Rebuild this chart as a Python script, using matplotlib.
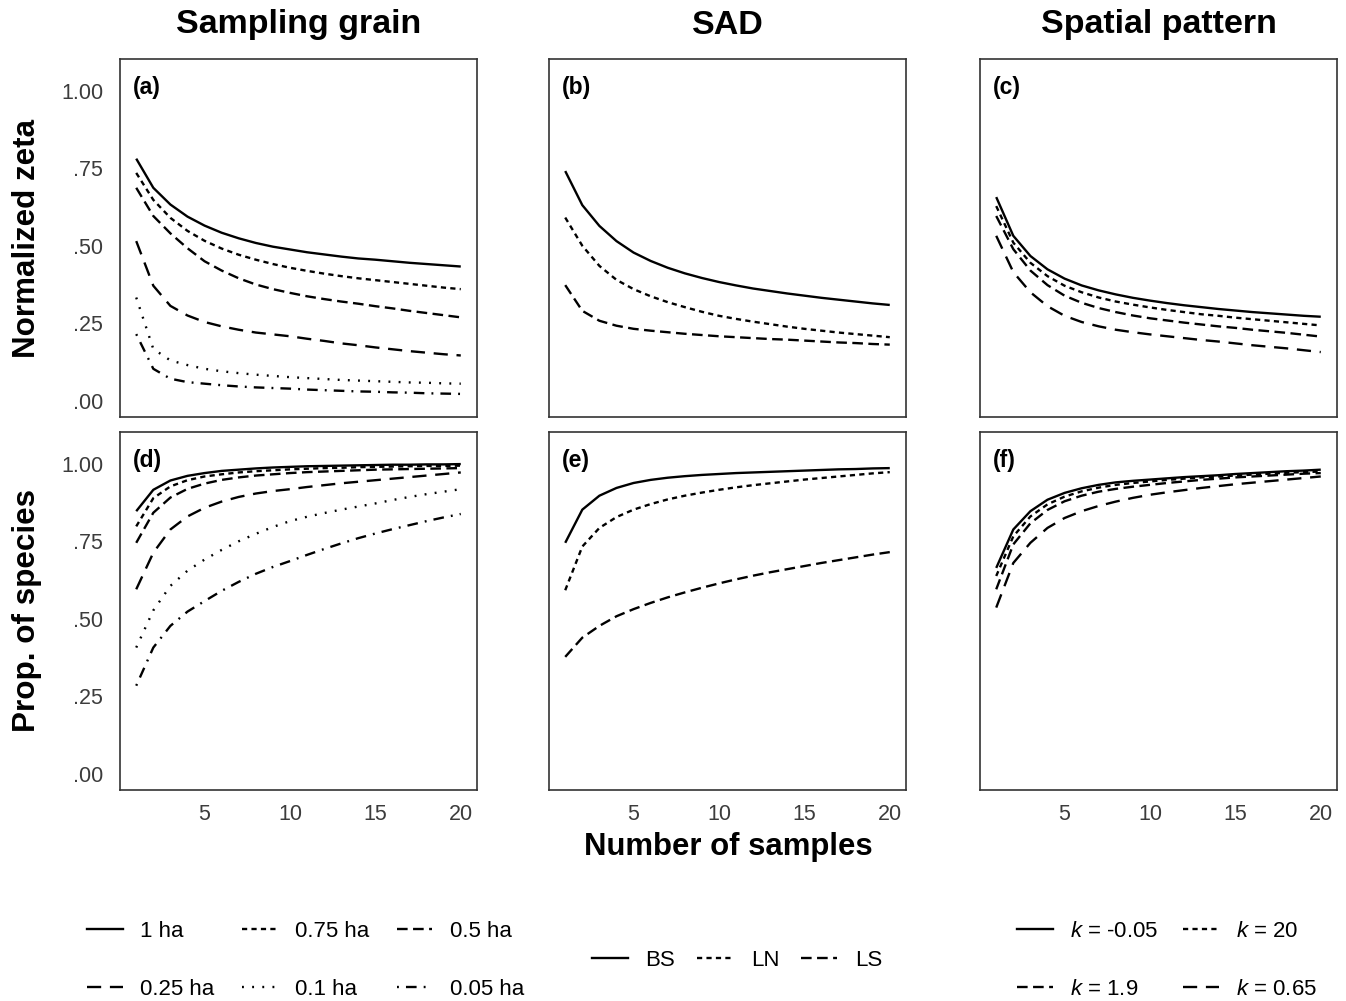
"""Zeta normalizado e proporcao de especies vs numero de amostras (6 paineis)."""

import matplotlib

matplotlib.use("Agg")
import matplotlib.pyplot as plt  # noqa: E402
from matplotlib.lines import Line2D  # noqa: E402

N_SAMPLES = list(range(1, 21))

# --- Sampling grain -----------------------------------------------------------
GRAIN_LABELS = ["1 ha", "0.75 ha", "0.5 ha", "0.25 ha", "0.1 ha", "0.05 ha"]
ZETA_GRAIN = [
    [0.781, 0.687, 0.633, 0.594, 0.565, 0.542, 0.524, 0.509, 0.497, 0.488,
     0.479, 0.472, 0.465, 0.459, 0.455, 0.450, 0.445, 0.441, 0.437, 0.433],
    [0.735, 0.648, 0.590, 0.548, 0.516, 0.491, 0.471, 0.455, 0.441, 0.429,
     0.419, 0.410, 0.402, 0.395, 0.389, 0.383, 0.377, 0.371, 0.365, 0.360],
    [0.687, 0.596, 0.540, 0.492, 0.450, 0.420, 0.395, 0.375, 0.360, 0.348,
     0.337, 0.328, 0.320, 0.313, 0.305, 0.298, 0.290, 0.283, 0.276, 0.269],
    [0.515, 0.371, 0.306, 0.275, 0.254, 0.240, 0.229, 0.220, 0.214, 0.208,
     0.200, 0.193, 0.185, 0.179, 0.172, 0.166, 0.160, 0.155, 0.150, 0.146],
    [0.333, 0.167, 0.130, 0.115, 0.103, 0.095, 0.089, 0.084, 0.080, 0.076,
     0.073, 0.070, 0.067, 0.065, 0.063, 0.061, 0.059, 0.058, 0.056, 0.055],
    [0.215, 0.103, 0.071, 0.060, 0.055, 0.050, 0.046, 0.043, 0.041, 0.039,
     0.036, 0.034, 0.032, 0.030, 0.029, 0.027, 0.026, 0.024, 0.023, 0.022],
]
PROP_GRAIN = [
    [0.847, 0.916, 0.946, 0.961, 0.970, 0.977, 0.981, 0.985, 0.988, 0.990,
     0.992, 0.993, 0.994, 0.995, 0.996, 0.997, 0.997, 0.998, 0.998, 0.999],
    [0.798, 0.889, 0.927, 0.947, 0.959, 0.966, 0.972, 0.976, 0.979, 0.982,
     0.984, 0.986, 0.987, 0.989, 0.990, 0.991, 0.992, 0.993, 0.993, 0.994],
    [0.745, 0.842, 0.891, 0.919, 0.936, 0.948, 0.956, 0.962, 0.966, 0.970,
     0.973, 0.975, 0.977, 0.979, 0.981, 0.982, 0.983, 0.984, 0.985, 0.986],
    [0.595, 0.713, 0.788, 0.830, 0.858, 0.878, 0.893, 0.904, 0.912, 0.918,
     0.925, 0.931, 0.937, 0.942, 0.947, 0.952, 0.957, 0.962, 0.967, 0.972],
    [0.407, 0.527, 0.606, 0.655, 0.691, 0.722, 0.750, 0.774, 0.796, 0.815,
     0.829, 0.841, 0.852, 0.862, 0.872, 0.883, 0.893, 0.902, 0.910, 0.918],
    [0.284, 0.407, 0.477, 0.523, 0.557, 0.590, 0.619, 0.645, 0.667, 0.686,
     0.706, 0.725, 0.743, 0.760, 0.775, 0.789, 0.802, 0.815, 0.827, 0.838],
]

# --- SAD ----------------------------------------------------------------------
SAD_LABELS = ["BS", "LN", "LS"]
ZETA_SAD = [
    [0.741, 0.631, 0.564, 0.515, 0.478, 0.451, 0.429, 0.411, 0.396, 0.383,
     0.372, 0.362, 0.354, 0.346, 0.339, 0.332, 0.326, 0.320, 0.314, 0.309],
    [0.591, 0.500, 0.435, 0.390, 0.360, 0.337, 0.318, 0.302, 0.287, 0.274,
     0.264, 0.255, 0.247, 0.239, 0.232, 0.226, 0.220, 0.215, 0.210, 0.205],
    [0.373, 0.290, 0.258, 0.242, 0.232, 0.226, 0.221, 0.216, 0.212, 0.208,
     0.205, 0.202, 0.199, 0.197, 0.194, 0.191, 0.188, 0.186, 0.183, 0.181],
]
PROP_SAD = [
    [0.745, 0.852, 0.897, 0.922, 0.938, 0.948, 0.955, 0.960, 0.964, 0.967,
     0.970, 0.972, 0.974, 0.976, 0.978, 0.980, 0.982, 0.983, 0.985, 0.986],
    [0.592, 0.733, 0.793, 0.828, 0.852, 0.870, 0.885, 0.897, 0.907, 0.916,
     0.924, 0.931, 0.937, 0.943, 0.949, 0.954, 0.959, 0.964, 0.969, 0.973],
    [0.377, 0.439, 0.477, 0.508, 0.531, 0.551, 0.569, 0.585, 0.600, 0.614,
     0.627, 0.639, 0.650, 0.660, 0.670, 0.680, 0.689, 0.698, 0.707, 0.715],
]

# --- Spatial pattern ----------------------------------------------------------
SPATIAL_LABELS = ["$k$ = -0.05", "$k$ = 20", "$k$ = 1.9", "$k$ = 0.65"]
ZETA_SPATIAL = [
    [0.657, 0.532, 0.467, 0.424, 0.394, 0.372, 0.356, 0.343, 0.332, 0.323,
     0.315, 0.308, 0.302, 0.296, 0.291, 0.286, 0.282, 0.278, 0.274, 0.271],
    [0.628, 0.510, 0.445, 0.402, 0.371, 0.350, 0.333, 0.320, 0.310, 0.301,
     0.293, 0.286, 0.279, 0.274, 0.268, 0.263, 0.258, 0.253, 0.248, 0.243],
    [0.596, 0.489, 0.420, 0.373, 0.339, 0.316, 0.299, 0.286, 0.275, 0.266,
     0.259, 0.252, 0.246, 0.240, 0.235, 0.229, 0.224, 0.219, 0.213, 0.207],
    [0.532, 0.415, 0.350, 0.305, 0.274, 0.254, 0.240, 0.229, 0.221, 0.214,
     0.208, 0.202, 0.196, 0.191, 0.185, 0.179, 0.174, 0.169, 0.163, 0.157],
]
PROP_SPATIAL = [
    [0.664, 0.788, 0.847, 0.884, 0.906, 0.921, 0.932, 0.940, 0.945, 0.949,
     0.953, 0.957, 0.960, 0.963, 0.967, 0.970, 0.973, 0.976, 0.978, 0.981],
    [0.638, 0.766, 0.830, 0.869, 0.894, 0.911, 0.923, 0.932, 0.938, 0.943,
     0.948, 0.952, 0.956, 0.959, 0.962, 0.965, 0.968, 0.971, 0.973, 0.975],
    [0.595, 0.740, 0.808, 0.851, 0.879, 0.897, 0.910, 0.919, 0.926, 0.932,
     0.938, 0.943, 0.948, 0.952, 0.956, 0.959, 0.962, 0.965, 0.968, 0.970],
    [0.536, 0.680, 0.745, 0.793, 0.825, 0.847, 0.864, 0.878, 0.890, 0.900,
     0.908, 0.915, 0.922, 0.928, 0.934, 0.939, 0.944, 0.949, 0.954, 0.959],
]

Y_TICKS = [0.0, 0.25, 0.5, 0.75, 1.0]
Y_TICK_LABELS = [".00", ".25", ".50", ".75", "1.00"]
X_TICKS = [5, 10, 15, 20]
COL_TITLES = ["Sampling grain", "SAD", "Spatial pattern"]
PANEL_TAGS = [["(a)", "(b)", "(c)"], ["(d)", "(e)", "(f)"]]

# tipos de linha (estilo ggplot: solid, dashed curto, medio, longo, pontilhado, ponto-traco)
SOLID = "-"
SHORT = (0, (2.2, 1.8))
MEDIUM = (0, (4.5, 2.3))
LONG = (0, (6.0, 3.7))
DOTTED = (0, (0.8, 3.5))
DOTDASH = (0, (0.8, 3.0, 4.5, 3.0))
GRAIN_STYLES = [SOLID, SHORT, MEDIUM, LONG, DOTTED, DOTDASH]
SAD_STYLES = [SOLID, SHORT, MEDIUM]
SPATIAL_STYLES = [SOLID, SHORT, MEDIUM, LONG]

W, H = 1346, 1001
LW = 1.7
TICK_COLOR = "#3c3c3c"


def _fx(px):
    return px / W


def _fy(py):
    return 1 - py / H


def _panel(fig, col, row):
    lefts = [120, 549, 980]
    bottoms = [417, 790]
    ax = fig.add_axes([_fx(lefts[col]), _fy(bottoms[row]), 357 / W, 358 / H])
    ax.set_xlim(0.05, 20.95)
    ax.set_ylim(-0.0525, 1.1025)
    ax.set_xticks(X_TICKS)
    ax.set_yticks(Y_TICKS)
    ax.tick_params(length=0, labelsize=15.5, labelcolor=TICK_COLOR, pad=12)
    ax.tick_params(axis="x", pad=10)
    if col == 0:
        ax.set_yticklabels(Y_TICK_LABELS)
    else:
        ax.set_yticklabels([])
    if row == 0:
        ax.set_xticklabels([])
    for s in ax.spines.values():
        s.set_color("#333333")
        s.set_linewidth(1.2)
    ax.text(0.036, 0.919, PANEL_TAGS[row][col], transform=ax.transAxes,
            fontsize=16.5, fontweight="bold", va="center", ha="left")
    return ax


def _draw(ax, series, styles):
    for ys, ls in zip(series, styles):
        ax.plot(N_SAMPLES, ys, color="black", lw=LW, linestyle=ls,
                solid_capstyle="butt", dash_capstyle="butt")


def _handles(labels, styles):
    return [Line2D([], [], color="black", lw=LW, linestyle=ls) for ls in styles]


def _legend(fig, labels, styles, ncol, order, loc, anchor, colsp):
    hs = _handles(labels, styles)
    hs = [hs[i] for i in order]
    ls = [labels[i] for i in order]
    fig.legend(hs, ls, ncol=ncol, loc=loc, bbox_to_anchor=anchor, frameon=False,
               fontsize=16, handlelength=1.6, handletextpad=0.8,
               columnspacing=colsp, labelspacing=1.65, borderpad=0, borderaxespad=0)


def main():
    plt.rcParams.update({
        "font.family": ["Liberation Sans", "DejaVu Sans"],
        "mathtext.fontset": "custom",
        "mathtext.rm": "Liberation Sans",
        "mathtext.it": "Liberation Sans:italic",
        "figure.facecolor": "white",
    })
    fig = plt.figure(figsize=(W / 100, H / 100), dpi=100)

    zeta = [ZETA_GRAIN, ZETA_SAD, ZETA_SPATIAL]
    prop = [PROP_GRAIN, PROP_SAD, PROP_SPATIAL]
    styles = [GRAIN_STYLES, SAD_STYLES, SPATIAL_STYLES]
    for col in range(3):
        _draw(_panel(fig, col, 0), zeta[col], styles[col])
        _draw(_panel(fig, col, 1), prop[col], styles[col])

    centers = [298.5, 728, 1158.5]
    for c, title in zip(centers, COL_TITLES):
        fig.text(_fx(c), _fy(25), title, ha="center", va="center",
                 fontsize=24.5, fontweight="bold")
    fig.text(_fx(728), _fy(847), "Number of samples", ha="center", va="center",
             fontsize=22.4, fontweight="bold")
    fig.text(_fx(27), _fy(238), "Normalized zeta", ha="center", va="center",
             rotation=90, fontsize=22.6, fontweight="bold")
    fig.text(_fx(27), _fy(611), "Prop. of species", ha="center", va="center",
             rotation=90, fontsize=22.6, fontweight="bold")

    # legendas (ordem por linha)
    _legend(fig, GRAIN_LABELS, GRAIN_STYLES, 3, [0, 3, 1, 4, 2, 5],
            "upper left", (_fx(87), _fy(921)), 1.23)
    _legend(fig, SAD_LABELS, SAD_STYLES, 3, [0, 1, 2],
            "center", (_fx(737), _fy(960)), 1.0)
    _legend(fig, SPATIAL_LABELS, SPATIAL_STYLES, 2, [0, 2, 1, 3],
            "upper left", (_fx(1017), _fy(921)), 1.1)

    fig.savefig("out.png", dpi=100)


if __name__ == "__main__":
    main()
